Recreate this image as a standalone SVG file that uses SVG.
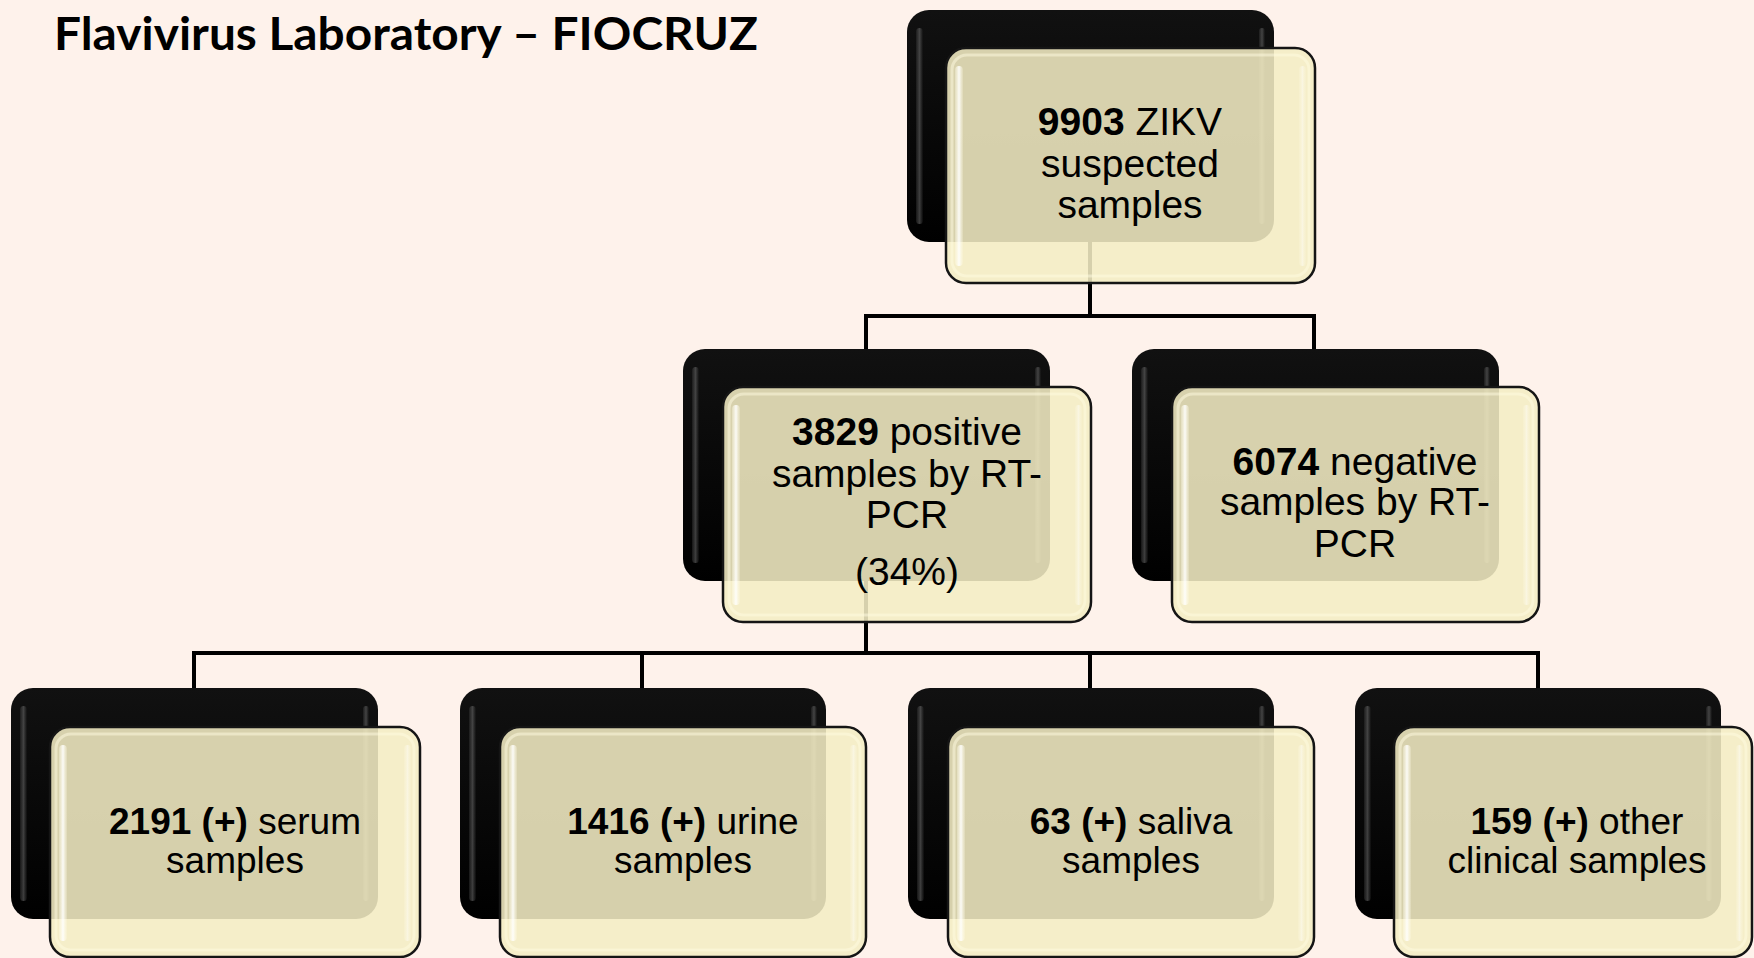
<svg xmlns="http://www.w3.org/2000/svg" width="1754" height="958" viewBox="0 0 1754 958">
<defs>
<linearGradient id="gBlk" x1="0" y1="0" x2="0" y2="1">
<stop offset="0" stop-color="#111"/>
<stop offset="1" stop-color="#000"/>
</linearGradient>
<linearGradient id="gShineL" x1="0" y1="0" x2="1" y2="0">
<stop offset="0" stop-color="#2a2a2a"/>
<stop offset="0.5" stop-color="#777"/>
<stop offset="1" stop-color="#111"/>
</linearGradient>
<linearGradient id="gWhiteL" x1="0" y1="0" x2="1" y2="0">
<stop offset="0" stop-color="#fffbe6" stop-opacity="0.3"/>
<stop offset="0.5" stop-color="#ffffff" stop-opacity="0.9"/>
<stop offset="1" stop-color="#fffbe6" stop-opacity="0.2"/>
</linearGradient>
</defs>
<style>
.bg{fill:#fef2eb}
.blk{fill:url(#gBlk)}
.blkS{fill:url(#gShineL);opacity:0.5}
.frt{fill:#f4edc4;fill-opacity:0.88;stroke:#151515;stroke-width:2.5}
.rim{fill:none;stroke:#fffbe2;stroke-opacity:0.5;stroke-width:3}
.wS{fill:url(#gWhiteL)}
.t{font-family:"Liberation Sans",Arial,sans-serif;font-size:39px;fill:#000;text-anchor:middle}
.s{font-size:37px}
.b{font-weight:bold}
.ttl{font-family:Lato,"Open Sans",sans-serif;font-weight:bold;font-size:46px;fill:#000}
.con{fill:none;stroke:#000;stroke-width:4;stroke-linecap:square;stroke-linejoin:miter}
</style>
<rect class="bg" x="0" y="0" width="1754" height="958"/>
<text id="title" class="ttl" x="54" y="50" textLength="704" lengthAdjust="spacingAndGlyphs">Flavivirus Laboratory – FIOCRUZ</text>

<g id="connectors">
<path class="con" d="M1090 242 V316 M866 316 H1314 M866 316 V349 M1314 316 V349"/>
<path class="con" d="M866 580 V653 M194 653 H1538 M194 653 V688 M642 653 V688 M1090 653 V688 M1538 653 V688"/>
</g>

<g id="n-top">
<rect class="blk" x="907" y="10" width="367" height="232" rx="22"/>
<rect class="blkS" x="916" y="28" width="7" height="196" rx="3.5"/>
<rect class="blkS" x="1259" y="28" width="6" height="196" rx="3"/>
<rect class="frt" x="946" y="48" width="369" height="235" rx="20"/>
<rect class="rim" x="952" y="55" width="357" height="221" rx="15"/>
<rect class="wS" x="955" y="66" width="8" height="200" rx="4"/>
<rect class="wS" x="1299" y="66" width="7" height="200" rx="3.5" opacity="0.5"/>
<text class="t" x="1130" y="135"><tspan class="b">9903</tspan> ZIKV</text>
<text class="t" x="1130" y="177">suspected</text>
<text class="t" x="1130" y="218">samples</text>
</g>

<g id="n-positive">
<rect class="blk" x="683" y="349" width="367" height="232" rx="22"/>
<rect class="blkS" x="692" y="367" width="7" height="196" rx="3.5"/>
<rect class="blkS" x="1035" y="367" width="6" height="196" rx="3"/>
<rect class="frt" x="723" y="387" width="368" height="235" rx="20"/>
<rect class="rim" x="729" y="394" width="356" height="221" rx="15"/>
<rect class="wS" x="732" y="405" width="8" height="200" rx="4"/>
<rect class="wS" x="1075" y="405" width="7" height="200" rx="3.5" opacity="0.5"/>
<text class="t" x="907" y="445"><tspan class="b">3829</tspan> positive</text>
<text class="t" x="907" y="487">samples by RT-</text>
<text class="t" x="907" y="528">PCR</text>
<text class="t" x="907" y="585">(34%)</text>
</g>

<g id="n-negative">
<rect class="blk" x="1132" y="349" width="367" height="232" rx="22"/>
<rect class="blkS" x="1141" y="367" width="7" height="196" rx="3.5"/>
<rect class="blkS" x="1484" y="367" width="6" height="196" rx="3"/>
<rect class="frt" x="1172" y="387" width="367" height="235" rx="20"/>
<rect class="rim" x="1178" y="394" width="355" height="221" rx="15"/>
<rect class="wS" x="1181" y="405" width="8" height="200" rx="4"/>
<rect class="wS" x="1523" y="405" width="7" height="200" rx="3.5" opacity="0.5"/>
<text class="t" x="1355" y="475"><tspan class="b">6074</tspan> negative</text>
<text class="t" x="1355" y="515">samples by RT-</text>
<text class="t" x="1355" y="557">PCR</text>
</g>

<g id="n-serum">
<rect class="blk" x="11" y="688" width="367" height="231" rx="22"/>
<rect class="blkS" x="20" y="706" width="7" height="195" rx="3.5"/>
<rect class="blkS" x="363" y="706" width="6" height="195" rx="3"/>
<rect class="frt" x="50" y="727" width="370" height="230" rx="20"/>
<rect class="rim" x="56" y="734" width="358" height="216" rx="15"/>
<rect class="wS" x="59" y="745" width="8" height="196" rx="4"/>
<rect class="wS" x="404" y="745" width="7" height="196" rx="3.5" opacity="0.5"/>
<text class="t s" x="235" y="834"><tspan class="b">2191 (+)</tspan> serum</text>
<text class="t s" x="235" y="873">samples</text>
</g>

<g id="n-urine">
<rect class="blk" x="460" y="688" width="366" height="231" rx="22"/>
<rect class="blkS" x="469" y="706" width="7" height="195" rx="3.5"/>
<rect class="blkS" x="811" y="706" width="6" height="195" rx="3"/>
<rect class="frt" x="500" y="727" width="366" height="230" rx="20"/>
<rect class="rim" x="506" y="734" width="354" height="216" rx="15"/>
<rect class="wS" x="509" y="745" width="8" height="196" rx="4"/>
<rect class="wS" x="850" y="745" width="7" height="196" rx="3.5" opacity="0.5"/>
<text class="t s" x="683" y="834"><tspan class="b">1416 (+)</tspan> urine</text>
<text class="t s" x="683" y="873">samples</text>
</g>

<g id="n-saliva">
<rect class="blk" x="908" y="688" width="366" height="231" rx="22"/>
<rect class="blkS" x="917" y="706" width="7" height="195" rx="3.5"/>
<rect class="blkS" x="1259" y="706" width="6" height="195" rx="3"/>
<rect class="frt" x="948" y="727" width="366" height="230" rx="20"/>
<rect class="rim" x="954" y="734" width="354" height="216" rx="15"/>
<rect class="wS" x="957" y="745" width="8" height="196" rx="4"/>
<rect class="wS" x="1298" y="745" width="7" height="196" rx="3.5" opacity="0.5"/>
<text class="t s" x="1131" y="834"><tspan class="b">63 (+)</tspan> saliva</text>
<text class="t s" x="1131" y="873">samples</text>
</g>

<g id="n-other">
<rect class="blk" x="1355" y="688" width="366" height="231" rx="22"/>
<rect class="blkS" x="1364" y="706" width="7" height="195" rx="3.5"/>
<rect class="blkS" x="1706" y="706" width="6" height="195" rx="3"/>
<rect class="frt" x="1394" y="727" width="358" height="230" rx="20"/>
<rect class="rim" x="1400" y="734" width="346" height="216" rx="15"/>
<rect class="wS" x="1403" y="745" width="8" height="196" rx="4"/>
<rect class="wS" x="1736" y="745" width="7" height="196" rx="3.5" opacity="0.5"/>
<text class="t s" x="1577" y="834"><tspan class="b">159 (+)</tspan> other</text>
<text class="t s" x="1577" y="873">clinical samples</text>
</g>
</svg>
